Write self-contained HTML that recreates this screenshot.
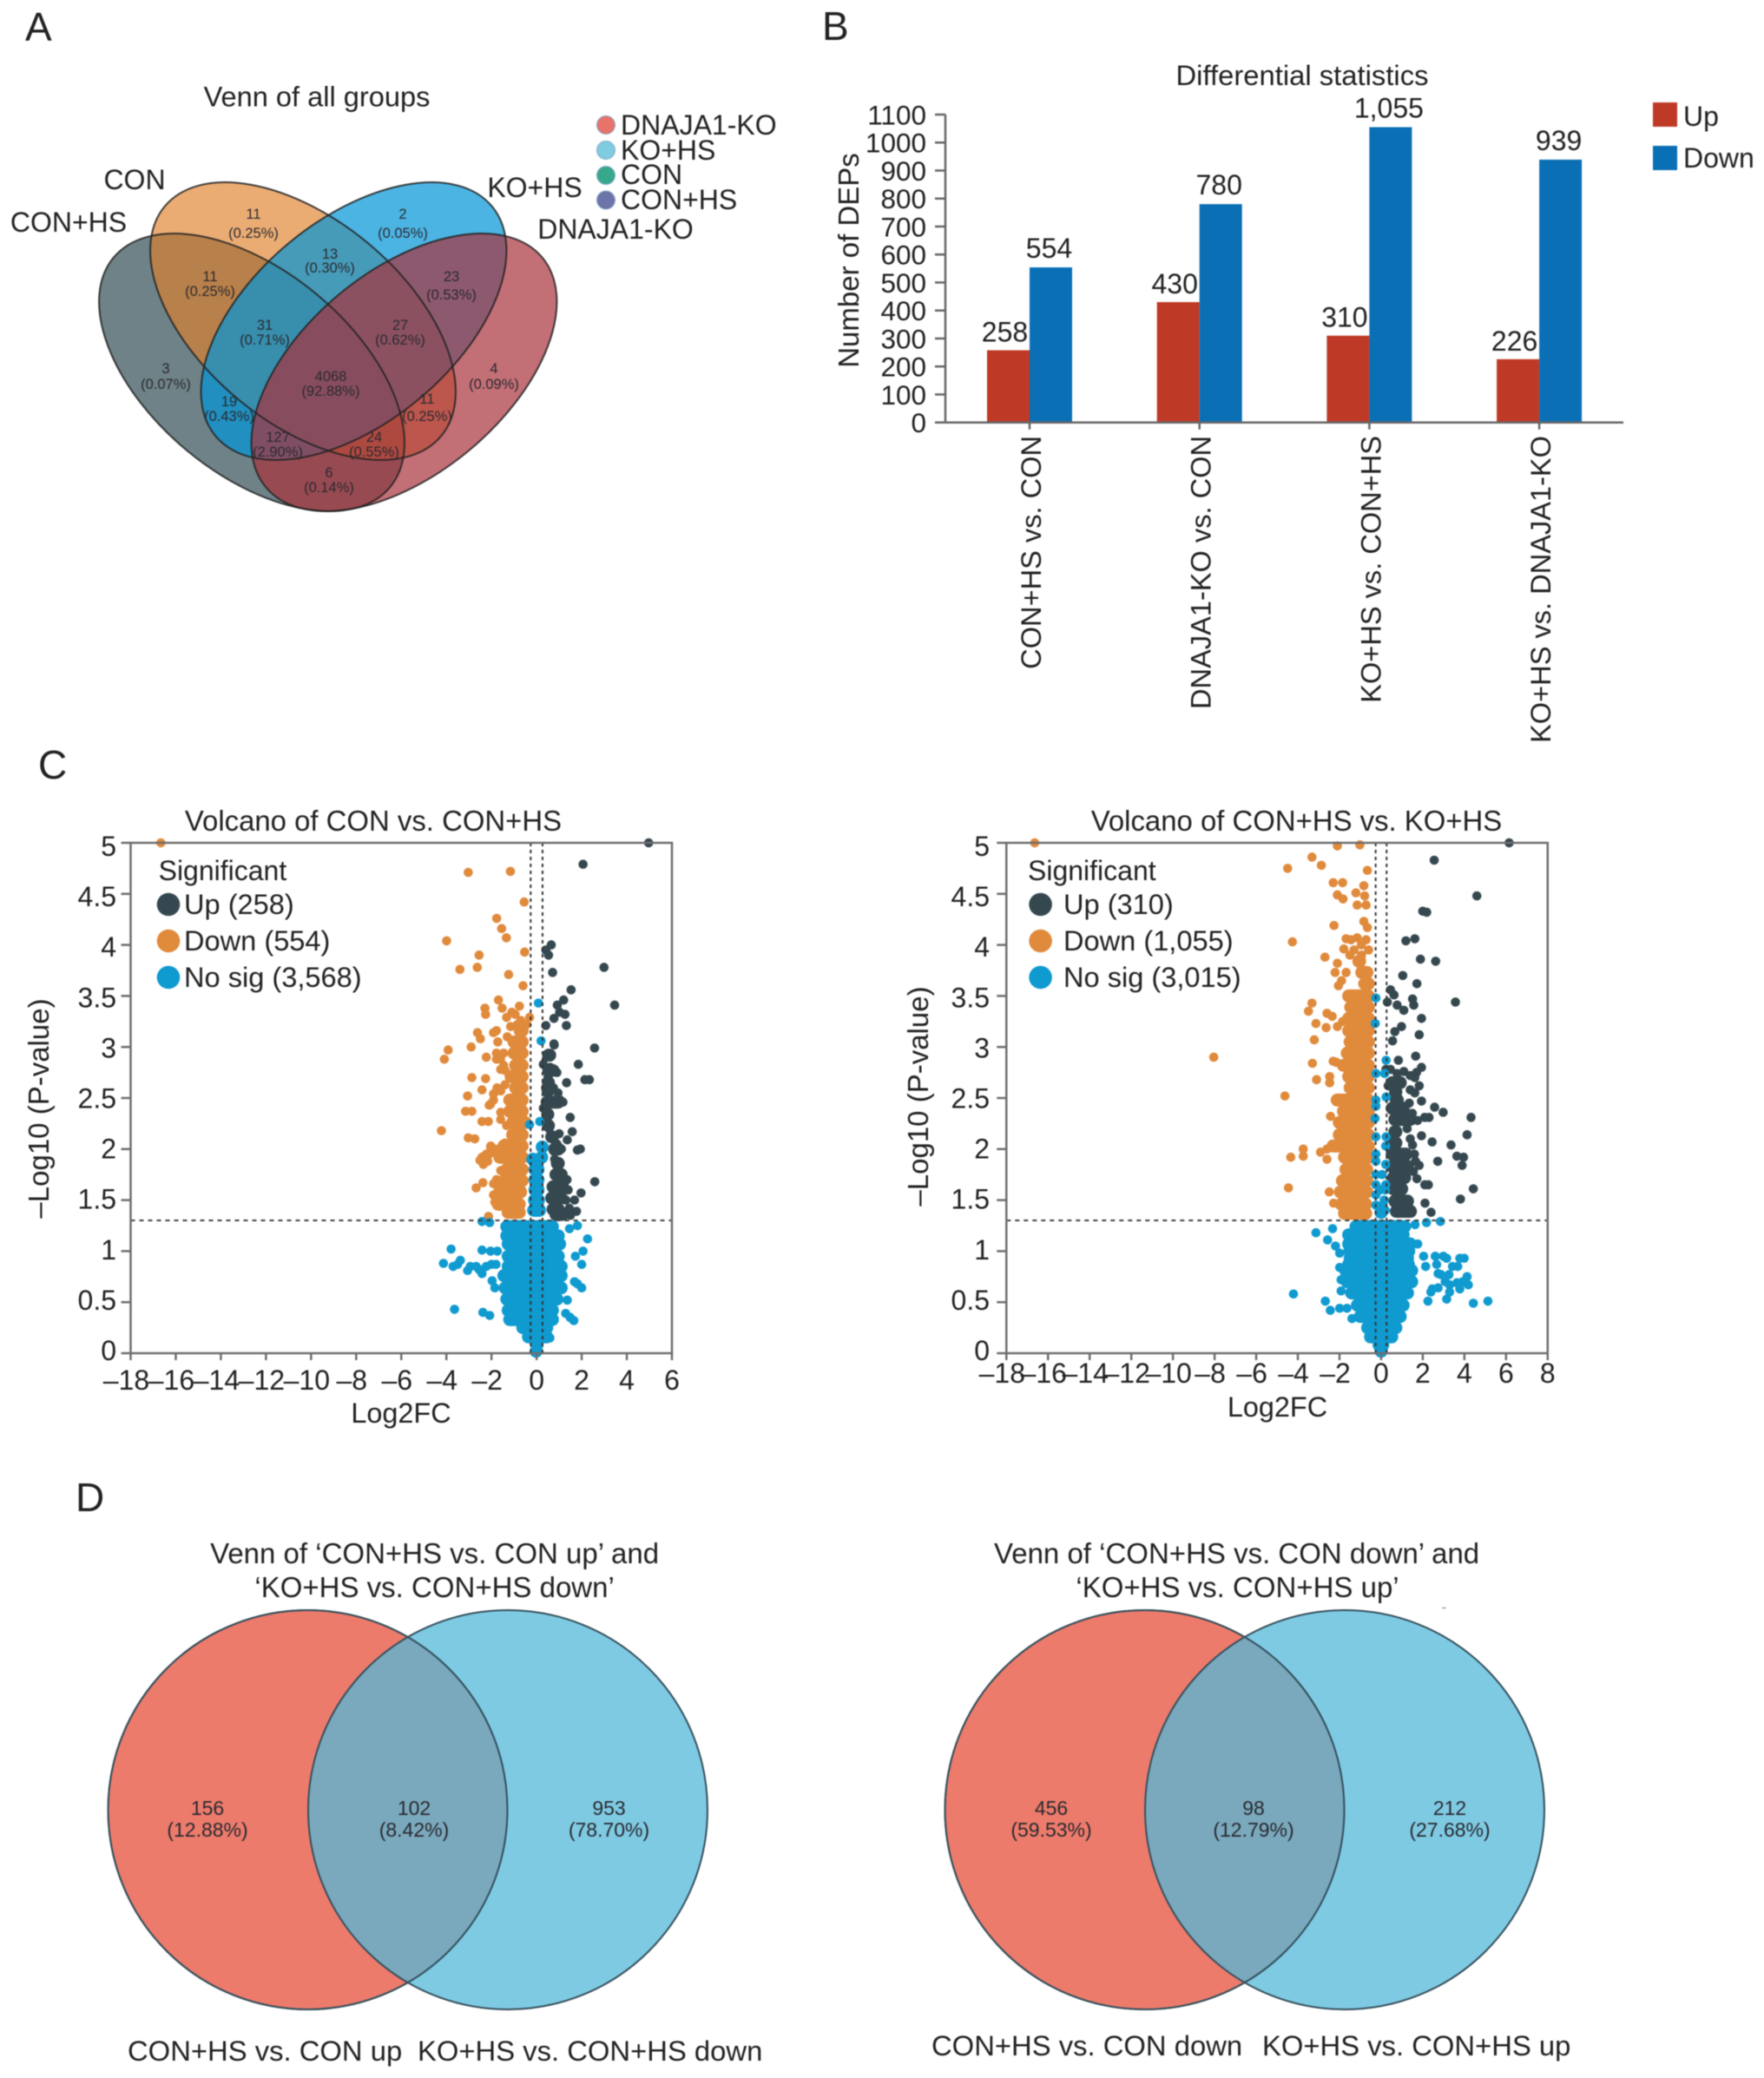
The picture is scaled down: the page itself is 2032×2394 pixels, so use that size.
<!DOCTYPE html>
<html lang="en">
<head>
<meta charset="utf-8">
<title>DEP analysis figure</title>
<style>
html,body{margin:0;padding:0;background:#fff;}
svg{display:block;font-family:"Liberation Sans",Arial,sans-serif;fill:#222;filter:blur(.5px);}
</style>
</head>
<body>
<svg id="figure" xmlns="http://www.w3.org/2000/svg" width="2032" height="2394" viewBox="0 0 2032 2394">
<rect x="0" y="0" width="2032" height="2394" fill="#fff"/>

<text x="29" y="47" font-size="46">A</text>
<text x="947" y="46" font-size="46">B</text>
<text x="44" y="897" font-size="46">C</text>
<text x="87" y="1741" font-size="46">D</text>

<!-- Panel A -->
<g id="panel-a">
<text x="365" y="122.5" font-size="32.6" text-anchor="middle">Venn of all groups</text>
<g>
<ellipse cx="290" cy="429" rx="207" ry="117" transform="rotate(39.7 290 429)" fill="#203f47" fill-opacity=".65"/>
<ellipse cx="349" cy="370" rx="207" ry="117" transform="rotate(39.7 349 370)" fill="#e07f2a" fill-opacity=".65"/>
<ellipse cx="407.5" cy="370" rx="207" ry="117" transform="rotate(-39.7 407.5 370)" fill="#0094d7" fill-opacity=".7"/>
<ellipse cx="465.5" cy="429" rx="207" ry="117" transform="rotate(-39.7 465.5 429)" fill="#aa323c" fill-opacity=".7"/>
</g>
<g fill="none" stroke="#222" stroke-width="2" stroke-opacity=".85">
<ellipse cx="290" cy="429" rx="207" ry="117" transform="rotate(39.7 290 429)"/>
<ellipse cx="349" cy="370" rx="207" ry="117" transform="rotate(39.7 349 370)"/>
<ellipse cx="407.5" cy="370" rx="207" ry="117" transform="rotate(-39.7 407.5 370)"/>
<ellipse cx="465.5" cy="429" rx="207" ry="117" transform="rotate(-39.7 465.5 429)"/>
</g>
<g font-size="32" text-anchor="middle">
<text x="155" y="218">CON</text>
<text x="79" y="267">CON+HS</text>
<text x="616" y="227">KO+HS</text>
<text x="709" y="275">DNAJA1-KO</text>
</g>
<g font-size="16.5" text-anchor="middle" fill="#2a2a30">
<text x="292" y="252">11</text><text x="292" y="274">(0.25%)</text>
<text x="464" y="252">2</text><text x="464" y="274">(0.05%)</text>
<text x="380" y="298">13</text><text x="380" y="314">(0.30%)</text>
<text x="242" y="324">11</text><text x="242" y="341">(0.25%)</text>
<text x="520" y="324">23</text><text x="520" y="345">(0.53%)</text>
<text x="305" y="380">31</text><text x="305" y="397">(0.71%)</text>
<text x="461" y="380">27</text><text x="461" y="397">(0.62%)</text>
<text x="191" y="430">3</text><text x="191" y="448">(0.07%)</text>
<text x="569" y="430">4</text><text x="569" y="448">(0.09%)</text>
<text x="381" y="439">4068</text><text x="381" y="456">(92.88%)</text>
<text x="264" y="468">19</text><text x="264" y="485">(0.43%)</text>
<text x="492" y="465">11</text><text x="492" y="485">(0.25%)</text>
<text x="320" y="509">127</text><text x="320" y="526">(2.90%)</text>
<text x="431" y="509">24</text><text x="431" y="526">(0.55%)</text>
<text x="379" y="550">6</text><text x="379" y="567">(0.14%)</text>
</g>
<g font-size="32">
<circle cx="698" cy="144" r="10.5" fill="#e8736a" stroke="#8ac" stroke-width="1"/>
<text x="715" y="155">DNAJA1-KO</text>
<circle cx="698" cy="173" r="10.5" fill="#7fcbe0" stroke="#8ac" stroke-width="1"/>
<text x="715" y="184">KO+HS</text>
<circle cx="698" cy="202" r="10.5" fill="#38a88c" stroke="#8ac" stroke-width="1"/>
<text x="715" y="212">CON</text>
<circle cx="698" cy="230.5" r="10.5" fill="#6c74a8" stroke="#8ac" stroke-width="1"/>
<text x="715" y="241">CON+HS</text>
</g>
</g>

<!-- Panel B, C drawn by script -->
<g id="panel-b"></g>
<g id="panel-c1"></g>
<g id="panel-c2"></g>

<!-- Panel D -->
<g id="panel-d1">
<g font-size="33" text-anchor="middle">
<text x="500.6" y="1801">Venn of ‘CON+HS vs. CON up’ and</text>
<text x="500.6" y="1840">‘KO+HS vs. CON+HS down’</text>
</g>
<circle cx="354.5" cy="2085" r="230" fill="#ec7b6c" stroke="#4a4a50" stroke-width="2"/>
<circle cx="585" cy="2085" r="230" fill="#52b8d9" fill-opacity=".74" stroke="#35505c" stroke-width="2"/>
<circle cx="354.5" cy="2085" r="230" fill="none" stroke="#35505c" stroke-width="2"/>
<g font-size="23" text-anchor="middle" fill="#2a2a30">
<text x="239" y="2091">156</text><text x="239" y="2116">(12.88%)</text>
<text x="477" y="2091">102</text><text x="477" y="2116">(8.42%)</text>
<text x="701.5" y="2091">953</text><text x="701.5" y="2116">(78.70%)</text>
</g>
<g font-size="32.8">
<text x="147" y="2374">CON+HS vs. CON up</text>
<text x="481" y="2374">KO+HS vs. CON+HS down</text>
</g>
</g>
<g id="panel-d2">
<g font-size="33" text-anchor="middle">
<text x="1424.6" y="1801">Venn of ‘CON+HS vs. CON down’ and</text>
<text x="1425.5" y="1840">‘KO+HS vs. CON+HS up’</text>
</g>
<line x1="1661" y1="1852.5" x2="1666" y2="1852.5" stroke="#aaa" stroke-width="1.5"/>
<circle cx="1318.5" cy="2085" r="230" fill="#ec7b6c" stroke="#4a4a50" stroke-width="2"/>
<circle cx="1549" cy="2085" r="230" fill="#52b8d9" fill-opacity=".74" stroke="#35505c" stroke-width="2"/>
<circle cx="1318.5" cy="2085" r="230" fill="none" stroke="#35505c" stroke-width="2"/>
<g font-size="23" text-anchor="middle" fill="#2a2a30">
<text x="1211" y="2091">456</text><text x="1211" y="2116">(59.53%)</text>
<text x="1444" y="2091">98</text><text x="1444" y="2116">(12.79%)</text>
<text x="1670" y="2091">212</text><text x="1670" y="2116">(27.68%)</text>
</g>
<g font-size="32.8">
<text x="1073" y="2368">CON+HS vs. CON down</text>
<text x="1454" y="2368">KO+HS vs. CON+HS up</text>
</g>
</g>
</svg>

<script>
/* ---------- Bar chart data ---------- */
var barCategories = ['CON+HS vs. CON', 'DNAJA1-KO vs. CON', 'KO+HS vs. CON+HS', 'KO+HS vs. DNAJA1-KO'];
var barUpValues = [258, 430, 310, 226];
var barDownValues = [554, 780, 1055, 939];
var barUpLabels = ['258', '430', '310', '226'];
var barDownLabels = ['554', '780', '1,055', '939'];
var barYTicks = [0, 100, 200, 300, 400, 500, 600, 700, 800, 900, 1000, 1100];

/* ---------- Volcano shared ticks ---------- */
var volcanoYTicks = [0, 0.5, 1, 1.5, 2, 2.5, 3, 3.5, 4, 4.5, 5];
var volcano1XTicks = [-18, -16, -14, -12, -10, -8, -6, -4, -2, 0, 2, 4, 6];
var volcano2XTicks = [-18, -16, -14, -12, -10, -8, -6, -4, -2, 0, 2, 4, 6, 8];
var volcanoPThreshold = 1.301;
var volcanoFcThreshold = 0.263;

/* ---------- Volcano 1: dense bands read as [-log10p, fcLow, fcHigh] ---------- */
var v1DownBands = [[3.16,-1.0,-.37],[3.05,-1.27,-.37],[2.94,-1.27,-.37],[2.82,-1.2,-.37],[2.71,-1.4,-.37],[2.6,-1.2,-.37],[2.48,-1.46,-.37],[2.37,-1.46,-.37],[2.26,-1.33,-.24],[2.14,-1.33,-.37],[2.03,-1.72,-.37],[1.92,-1.9,-.37],[1.8,-1.59,-.37],[1.69,-1.72,-.37],[1.58,-1.91,-.44],[1.46,-1.97,-.5],[1.38,-1.53,-.5]];
var v1UpBands = [[2.92,.27,.85],[2.77,.27,.97],[2.65,.33,.72],[2.57,.3,.72],[2.46,.2,1.23],[2.34,.27,.72],[2.23,.33,.72],[2.12,.4,.97],[2.0,.53,1.23],[1.86,.65,1.23],[1.75,.59,1.36],[1.63,.46,1.42],[1.52,.4,1.36],[1.41,.46,1.23],[1.36,.59,1.42]];
var v1NoSigBands = [[1.24,-1.59,.97],[1.15,-1.59,1.23],[1.07,-1.53,1.29],[.95,-1.53,1.23],[.85,-1.53,1.36],[.76,-1.72,1.36],[.64,-1.66,1.36],[.53,-1.59,1.17],[.42,-1.53,.97],[.33,-1.46,.97],[.25,-.88,.72],[.16,-.63,.72],[.08,-.24,.27],[.02,-.12,.08],[1.4,-.4,.4],[1.5,-.36,.35],[1.6,-.34,.33],[1.7,-.34,.33],[1.8,-.34,.33],[1.9,-.34,.0],[1.92,.1,.35],[2.02,.12,.38]];
/* Volcano 1: individual points as [log2FC, -log10p] */
var v1DownPoints = [[-16.66,5],[-3.03,4.71],[-1.16,4.72],[-.55,4.42],[-1.77,4.26],[-1.55,4.16],[-1.34,4.07],[-3.99,4.04],[-.53,3.93],[-2.55,3.9],[-2.63,3.78],[-3.4,3.76],[-1.24,3.71],[-.6,3.6],[-1.69,3.46],[-2.29,3.38],[-2.26,3.32],[-1.53,3.38],[-.76,3.4],[-1.33,3.29],[-.95,3.32],[-1.1,3.34],[-.31,3.29],[-.44,3.22],[-2.62,3.14],[-2.49,3.08],[-1.91,3.14],[-1.78,3.16],[-3.92,2.97],[-4.09,2.88],[-2.9,3.0],[-2.23,2.9],[-1.72,3.05],[-1.78,2.94],[-1.6,2.88],[-2.87,2.7],[-2.26,2.69],[-2.42,2.58],[-3.06,2.52],[-3.15,2.37],[-2.87,2.37],[-4.22,2.18],[-2.42,2.27],[-2.14,2.27],[-3.03,2.11],[-2.74,2.1],[-2.1,2.43],[-1.91,2.48],[-1.59,2.57],[-1.75,2.6],[-1.59,2.29],[-2.03,2.03],[-2.51,1.89],[-2.36,1.85],[-2.23,1.95],[-1.85,1.97],[-2.68,1.62],[-2.38,1.67],[-1.91,1.66],[-1.78,1.7],[-2.13,1.34],[-1.46,2.94],[-1.78,2.88],[-1.59,2.78],[-1.4,2.77],[-1.46,2.82],[-1.78,2.57],[-1.91,2.54],[-2.04,2.44],[-1.59,2.58],[-1.4,2.63],[-1.59,2.36],[-1.33,2.23],[-1.4,2.06],[-2.04,2.02],[-2.1,1.95],[-1.85,2.0],[-1.72,1.95],[-2.42,1.92],[-2.17,1.88],[-1.53,1.97],[-1.59,1.79],[-1.85,1.66],[-1.91,1.55],[-1.85,1.48],[-1.65,1.44],[-1.3,3.1],[-1.15,3.2],[-.85,3.22],[-.7,3.26]];
var v1UpPoints = [[4.97,5],[2.06,4.79],[.65,4.0],[.41,3.95],[.53,3.9],[.71,3.73],[2.99,3.78],[3.46,3.41],[1.53,3.56],[1.2,3.46],[.92,3.41],[.77,3.28],[1.02,3.34],[1.26,3.32],[.41,3.21],[1.32,3.21],[.77,3.03],[2.57,2.99],[1.85,2.83],[2.14,2.68],[2.34,2.68],[.78,3.02],[1.33,2.65],[1.17,2.46],[1.49,2.31],[1.58,2.17],[1.94,2.0],[1.81,1.99],[1.36,2.09],[2.58,1.68],[1.97,1.57],[1.68,1.5],[1.77,1.39],[.3,2.83],[.45,2.9],[.6,2.8],[.8,2.78],[.5,2.7],[.9,2.75],[.4,2.6],[.75,2.6],[.9,2.45],[1.05,2.48],[.3,2.4],[.5,2.35],[.35,2.28],[.55,2.2],[.7,2.1],[.9,2.05],[1.1,2.0],[1.0,2.15],[.75,1.98],[.8,1.9],[1.35,1.7],[1.4,1.6],[1.3,1.5],[1.45,1.42],[1.5,1.35],[.95,2.55]];
var v1NoSigPoints = [[.08,3.43],[.2,3.06],[-.31,2.24],[.14,2.27],[-3.79,1.02],[-4.13,.88],[-3.7,.85],[-3.38,.91],[-3.5,.87],[-3.06,.81],[-2.94,.85],[-2.68,.85],[-2.55,.82],[-2.42,1.01],[-2.04,1.0],[-1.74,1.0],[-2.42,.78],[-2.23,.85],[-2.0,.87],[-1.8,.87],[-1.97,.71],[-1.85,.64],[-3.64,.43],[-2.38,.4],[-2.08,.37],[-2.42,1.29],[-2.08,1.28],[1.46,1.22],[1.81,1.25],[2.26,1.12],[2.06,1.0],[1.72,.95],[2,.87],[1.68,.7],[1.81,.68],[2,.64],[1.36,.52],[1.29,.39],[1.49,.35],[1.65,.32],[.59,.15]];

/* ---------- Volcano 2 ---------- */
var v2DownBands = [[3.84,-1.36,-.74],[3.73,-1.22,-.39],[3.62,-1.08,-.32],[3.5,-1.85,-.32],[3.39,-1.75,-.32],[3.28,-1.85,-.32],[3.16,-1.85,-.32],[3.05,-1.78,-.32],[2.94,-1.92,-.32],[2.82,-2.1,-.32],[2.71,-1.85,-.32],[2.6,-1.78,-.32],[2.48,-2.4,-.32],[2.37,-2.1,-.32],[2.26,-2.3,-.32],[2.14,-2.3,-.32],[2.03,-2.6,-.32],[1.92,-2.05,-.32],[1.8,-1.98,-.4],[1.69,-2.15,-.4],[1.58,-2.25,-.4],[1.46,-2.2,-.45],[1.37,-2.05,-.45]];
var v2UpBands = [[2.65,.24,1.21],[2.56,.4,1.0],[2.48,.44,1.07],[2.4,.24,1.35],[2.29,.37,1.69],[2.17,.37,1.0],[2.06,.3,1.0],[1.95,.24,1.49],[1.83,.24,1.56],[1.72,.3,1.42],[1.61,.3,1.28],[1.49,.37,1.56],[1.39,.44,1.7]];
var v2NoSigBands = [[1.24,-1.5,1.42],[1.16,-1.85,1.35],[1.07,-1.85,1.69],[1.0,-1.8,1.62],[.93,-1.78,1.56],[.87,-1.85,1.6],[.81,-1.99,1.76],[.7,-1.92,1.76],[.59,-1.71,1.56],[.47,-1.43,1.35],[.36,-1.29,1.21],[.25,-.94,1.0],[.16,-.8,.8],[.08,-.39,.37],[.02,-.1,.1],[1.38,-.3,.3]];
var v2DownPoints = [[-16.64,5],[-2.1,4.97],[-1.02,4.98],[-3.32,4.86],[-2.87,4.78],[-4.49,4.75],[-.66,4.73],[-2.3,4.61],[-1.85,4.61],[-.83,4.58],[-1.21,4.51],[-2.1,4.49],[-1.83,4.45],[-.79,4.48],[-1.15,4.39],[-.72,4.39],[-.83,4.23],[-2.26,4.19],[-.66,4.17],[-4.26,4.03],[-1.68,4.06],[-1.15,4.07],[-.72,4.05],[-1.45,4.05],[-.95,4.0],[-1.3,3.95],[-.6,3.95],[-1.79,3.96],[-1.5,3.9],[-2.7,3.88],[-2.1,3.82],[-.94,3.9],[-2.21,3.73],[-1.68,3.73],[-1.9,3.65],[-2.05,3.6],[-8.04,2.9],[-3.32,3.43],[-3.49,3.35],[-2.6,3.33],[-2.35,3.3],[-3.13,3.23],[-3.21,3.07],[-2.64,3.19],[-2.1,3.2],[-1.85,3.25],[-3.3,2.84],[-3.1,2.68],[-2.47,2.71],[-2.47,2.65],[-4.62,2.52],[-2.3,2.86],[-2.15,2.85],[-2.15,2.49],[-2.43,2.32],[-3.74,2.0],[-3.74,1.93],[-4.34,1.92],[-2.91,1.97],[-2.6,2.0],[-4.45,1.62],[-2.49,1.58],[-2.28,1.47],[-2.6,1.9]];
var v2UpPoints = [[6.15,5],[2.55,4.83],[4.6,4.48],[2,4.33],[2.19,4.32],[1.19,4.04],[1.62,4.06],[1.89,3.86],[2.62,3.84],[1.04,3.7],[1.72,3.62],[.45,3.56],[.62,3.51],[.3,3.44],[.77,3.41],[1.09,3.36],[1.51,3.47],[1.57,3.41],[3.57,3.44],[1.94,3.28],[.98,3.2],[.66,3.15],[1.83,3.12],[.55,3.06],[1.66,2.91],[.83,2.87],[1.94,2.8],[.23,2.78],[1.83,2.62],[1.94,2.47],[2.57,2.41],[2.98,2.36],[4.32,2.31],[2.09,2.31],[2.3,2.31],[1.94,2.13],[2.45,2.07],[3.36,2.04],[4.13,2.14],[3.64,1.93],[3.96,1.92],[3.89,1.84],[2.72,1.88],[1.51,2.04],[1.83,1.84],[1.72,1.71],[1.55,1.78],[2.27,1.65],[2.1,1.65],[4.43,1.61],[3.81,1.51],[2.11,1.47],[2.4,1.38],[.45,2.78],[.77,2.74],[1.09,2.76],[1.4,2.72],[1.62,2.7],[.34,2.62],[.66,2.62],[.98,2.64],[1.4,2.58],[1.7,2.75],[1.62,2.55],[1.25,2.2],[1.4,2.1],[1.6,1.95],[1.65,1.88],[1.35,2.45],[1.5,2.35],[1.75,2.28]];
var v2NoSigPoints = [[-.25,3.48],[-.28,3.23],[.24,2.87],[-.25,2.74],[.17,2.74],[-.25,2.48],[.24,2.51],[-.25,2.42],[-.29,2.3],[.24,2.12],[-.25,2.12],[-.25,1.95],[-.25,1.88],[-.25,1.75],[-.25,1.65],[-.25,1.55],[-.25,1.45],[.22,2.03],[.22,1.85],[.22,1.65],[.2,1.6],[.15,1.5],[.2,1.4],[.05,1.75],[-.05,1.6],[.05,1.45],[-4.21,.58],[-3.13,1.18],[-2.33,1.22],[-2.57,1.11],[-2.19,1.05],[-1.99,.98],[-2.68,.51],[-2.44,.42],[-1.99,.44],[-1.64,.44],[-1.4,.34],[-1.99,.84],[-1.92,.72],[-1.92,.61],[2.18,1.28],[2.85,1.29],[1.63,1.26],[1.76,1.07],[2.04,.95],[2.6,.95],[2.99,.95],[3.15,.93],[3.78,.93],[3.99,.93],[2.14,.85],[2.67,.87],[3.43,.85],[3.68,.85],[2.74,.78],[2.88,.77],[3.26,.77],[4.13,.75],[3.08,.7],[3.29,.67],[3.92,.7],[3.64,.69],[4.19,.67],[2.46,.63],[2.74,.64],[2.39,.6],[3.29,.6],[3.15,.53],[3.78,.63],[2.25,.51],[4.43,.49],[5.13,.51]];

var SVGNS = 'http://www.w3.org/2000/svg';
function make(parent, tag, attrs, text) {
  var n = document.createElementNS(SVGNS, tag);
  for (var k in attrs) { n.setAttribute(k, attrs[k]); }
  if (text !== undefined) { n.textContent = text; }
  parent.appendChild(n);
  return n;
}
function dashify(v) { return v < 0 ? '–' + Math.abs(v) : String(v); }

/* ---------- Bar chart ---------- */
(function () {
  var g = document.getElementById('panel-b');
  var axisColor = '#666';
  var y0 = 486.7, yTop = 132, axisX = 1089, barW = 49;
  var catStart = 1186, catStep = 195.7;
  function yScale(v) { return y0 - (y0 - yTop) * v / 1100; }
  function catX(i) { return catStart + catStep * i; }

  var title = make(g, 'text', {x: 1500, y: 98, 'font-size': 32.8, 'text-anchor': 'middle'}, 'Differential statistics');
  
  

  var ytitle = make(g, 'text', {transform: 'translate(989,300) rotate(-90)', 'font-size': 33, 'text-anchor': 'middle'}, 'Number of DEPs');
  
  

  barCategories.forEach(function (cat, i) {
    var cx = catX(i);
    var up = make(g, 'rect', {x: cx - barW, y: yScale(barUpValues[i]), width: barW, height: y0 - yScale(barUpValues[i]), fill: '#bf3a26'});
    
    
    var down = make(g, 'rect', {x: cx, y: yScale(barDownValues[i]), width: barW, height: y0 - yScale(barDownValues[i]), fill: '#0b6fb5'});
    
    
    var ul = make(g, 'text', {x: cx - barW / 2 - 4, y: yScale(barUpValues[i]) - 10, 'font-size': 32, 'text-anchor': 'middle'}, barUpLabels[i]);
    
    
    var dl = make(g, 'text', {x: cx + barW / 2 - 2, y: yScale(barDownValues[i]) - 11, 'font-size': 32, 'text-anchor': 'middle'}, barDownLabels[i]);
    
    
    var tick = make(g, 'line', {x1: cx, x2: cx, y1: y0, y2: y0 + 8, stroke: axisColor, 'stroke-width': 2.5});
    
    
    var xl = make(g, 'text', {transform: 'translate(' + (cx + 13) + ',502) rotate(-90)', 'font-size': 32.6, 'text-anchor': 'end'}, cat);
    
    
  });

  barYTicks.forEach(function (v) {
    var t = make(g, 'line', {x1: 1077, x2: axisX, y1: yScale(v), y2: yScale(v), stroke: axisColor, 'stroke-width': 2.5});
    
    
    var l = make(g, 'text', {x: 1067, y: yScale(v) + 11.5, 'font-size': 31.5, 'text-anchor': 'end'}, String(v));
    
    
  });

  var ya = make(g, 'line', {x1: axisX, x2: axisX, y1: yTop, y2: y0, stroke: axisColor, 'stroke-width': 2.5});
  
  
  var xa = make(g, 'line', {x1: 1077, x2: 1870, y1: y0, y2: y0, stroke: axisColor, 'stroke-width': 2.5});
  
  

  var ru = make(g, 'rect', {x: 1904, y: 118, width: 28, height: 28, fill: '#bf3a26'});
  
  
  var tu = make(g, 'text', {x: 1939, y: 145, 'font-size': 32}, 'Up');
  
  
  var rd = make(g, 'rect', {x: 1904, y: 168, width: 28, height: 28, fill: '#0b6fb5'});
  
  
  var td = make(g, 'text', {x: 1939, y: 193, 'font-size': 32}, 'Down');
  
  
})();

/* ---------- Volcano plots ---------- */
var COLOR_UP = '#36484f', COLOR_DOWN = '#e08a3c', COLOR_NOSIG = '#0f9ad0';

function drawVolcano(g, opt, xTicks, series) {
  var L = opt.left, R = opt.right, T = 971, B = 1559;
  var xMin = xTicks[0], xMax = xTicks[xTicks.length - 1];
  function x(v) { return L + (R - L) * (v - xMin) / (xMax - xMin); }
  function y(v) { return B - (B - T) * v / 5; }
  var axisColor = '#6e6e6e';

  function bands(rows, color, name) {
    var grp = make(g, 'g', {stroke: color, 'stroke-width': 15, 'stroke-linecap': 'round'});
    
    
    rows.forEach(function (r) {
      var a = x(r[1]) + 7, b = x(r[2]) - 7;
      if (b < a) { a = b = (a + b) / 2; }
      make(grp, 'line', {x1: a, x2: b, y1: y(r[0]), y2: y(r[0])});
    });
  }
  function points(rows, color, name) {
    var grp = make(g, 'g', {fill: color});
    
    
    rows.forEach(function (p) {
      make(grp, 'circle', {cx: x(p[0]), cy: y(p[1]), r: 5.3});
    });
  }

  var title = make(g, 'text', {x: opt.titleX, y: 957, 'font-size': 32.9, 'text-anchor': 'middle'}, opt.title);
  
  

  bands(series.downBands, COLOR_DOWN, 'down-density');
  points(series.downPoints, COLOR_DOWN, 'down-points');
  bands(series.upBands, COLOR_UP, 'up-density');
  points(series.upPoints, COLOR_UP, 'up-points');
  bands(series.noSigBands, COLOR_NOSIG, 'no-sig-density');
  points(series.noSigPoints, COLOR_NOSIG, 'no-sig-points');

  [-volcanoFcThreshold, volcanoFcThreshold].forEach(function (v, i) {
    var d = make(g, 'line', {x1: x(v), x2: x(v), y1: T, y2: B, stroke: '#333', 'stroke-width': 2, 'stroke-dasharray': '4 4'});
    
    
  });
  var hd = make(g, 'line', {x1: L, x2: R, y1: y(volcanoPThreshold), y2: y(volcanoPThreshold), stroke: '#444', 'stroke-width': 2, 'stroke-dasharray': '5 5'});
  
  

  var frame = make(g, 'rect', {x: L, y: T, width: R - L, height: B - T, fill: 'none', stroke: axisColor, 'stroke-width': 2.5});
  
  

  volcanoYTicks.forEach(function (v) {
    var t = make(g, 'line', {x1: L - 11, x2: L, y1: y(v), y2: y(v), stroke: axisColor, 'stroke-width': 2.5});
    
    
    var l = make(g, 'text', {x: opt.yLabelRight, y: y(v) + (v / 5 * 7 - 3) + 11, 'font-size': 32, 'text-anchor': 'end'}, String(v));
    
    
  });
  xTicks.forEach(function (v) {
    var t = make(g, 'line', {x1: x(v), x2: x(v), y1: B, y2: B + 8, stroke: axisColor, 'stroke-width': 2.5});
    
    
    var l = make(g, 'text', {x: x(v) - (v < 0 ? 5 : 0), y: opt.xLabelY + 11, 'font-size': 32, 'text-anchor': 'middle'}, dashify(v));
    
    
  });

  var xt = make(g, 'text', {x: opt.xTitleX, y: opt.xTitleY + 11, 'font-size': 32.4, 'text-anchor': 'middle'}, 'Log2FC');
  
  
  var yt = make(g, 'text', {transform: 'translate(' + (opt.yTitleX + 11) + ',' + opt.yTitleY + ') rotate(-90)', 'font-size': 33, 'text-anchor': 'middle'}, '–Log10 (P-value)');
  
  

  var lh = make(g, 'text', {x: opt.legendHeadX, y: 1014, 'font-size': 32}, 'Significant');
  
  
  var entries = [[opt.labels[0], COLOR_UP, 1042], [opt.labels[1], COLOR_DOWN, 1084], [opt.labels[2], COLOR_NOSIG, 1126]];
  entries.forEach(function (e, i) {
    var c = make(g, 'circle', {cx: opt.legendDotX, cy: e[2], r: 13.3, fill: e[1]});
    
    
    var t = make(g, 'text', {x: opt.legendTextX, y: e[2] + 11, 'font-size': 32.6}, e[0]);
    
    
  });
}

drawVolcano(document.getElementById('panel-c1'), {
  left: 150.5, right: 774, title: 'Volcano of CON vs. CON+HS', titleX: 430,
  yLabelRight: 134, xLabelY: 1590, xTitleX: 462, xTitleY: 1628, yTitleX: 45, yTitleY: 1277,
  legendHeadX: 182.6, legendDotX: 194, legendTextX: 212,
  labels: ['Up (258)', 'Down (554)', 'No sig (3,568)']
}, volcano1XTicks, {
  downBands: v1DownBands, upBands: v1UpBands, noSigBands: v1NoSigBands,
  downPoints: v1DownPoints, upPoints: v1UpPoints, noSigPoints: v1NoSigPoints
});

drawVolcano(document.getElementById('panel-c2'), {
  left: 1159.3, right: 1782.8, title: 'Volcano of CON+HS vs. KO+HS', titleX: 1493.5,
  yLabelRight: 1140, xLabelY: 1582, xTitleX: 1471.5, xTitleY: 1621, yTitleX: 1058, yTitleY: 1263,
  legendHeadX: 1184, legendDotX: 1198.6, legendTextX: 1225,
  labels: ['Up (310)', 'Down (1,055)', 'No sig (3,015)']
}, volcano2XTicks, {
  downBands: v2DownBands, upBands: v2UpBands, noSigBands: v2NoSigBands,
  downPoints: v2DownPoints, upPoints: v2UpPoints, noSigPoints: v2NoSigPoints
});
</script>
</body>
</html>
